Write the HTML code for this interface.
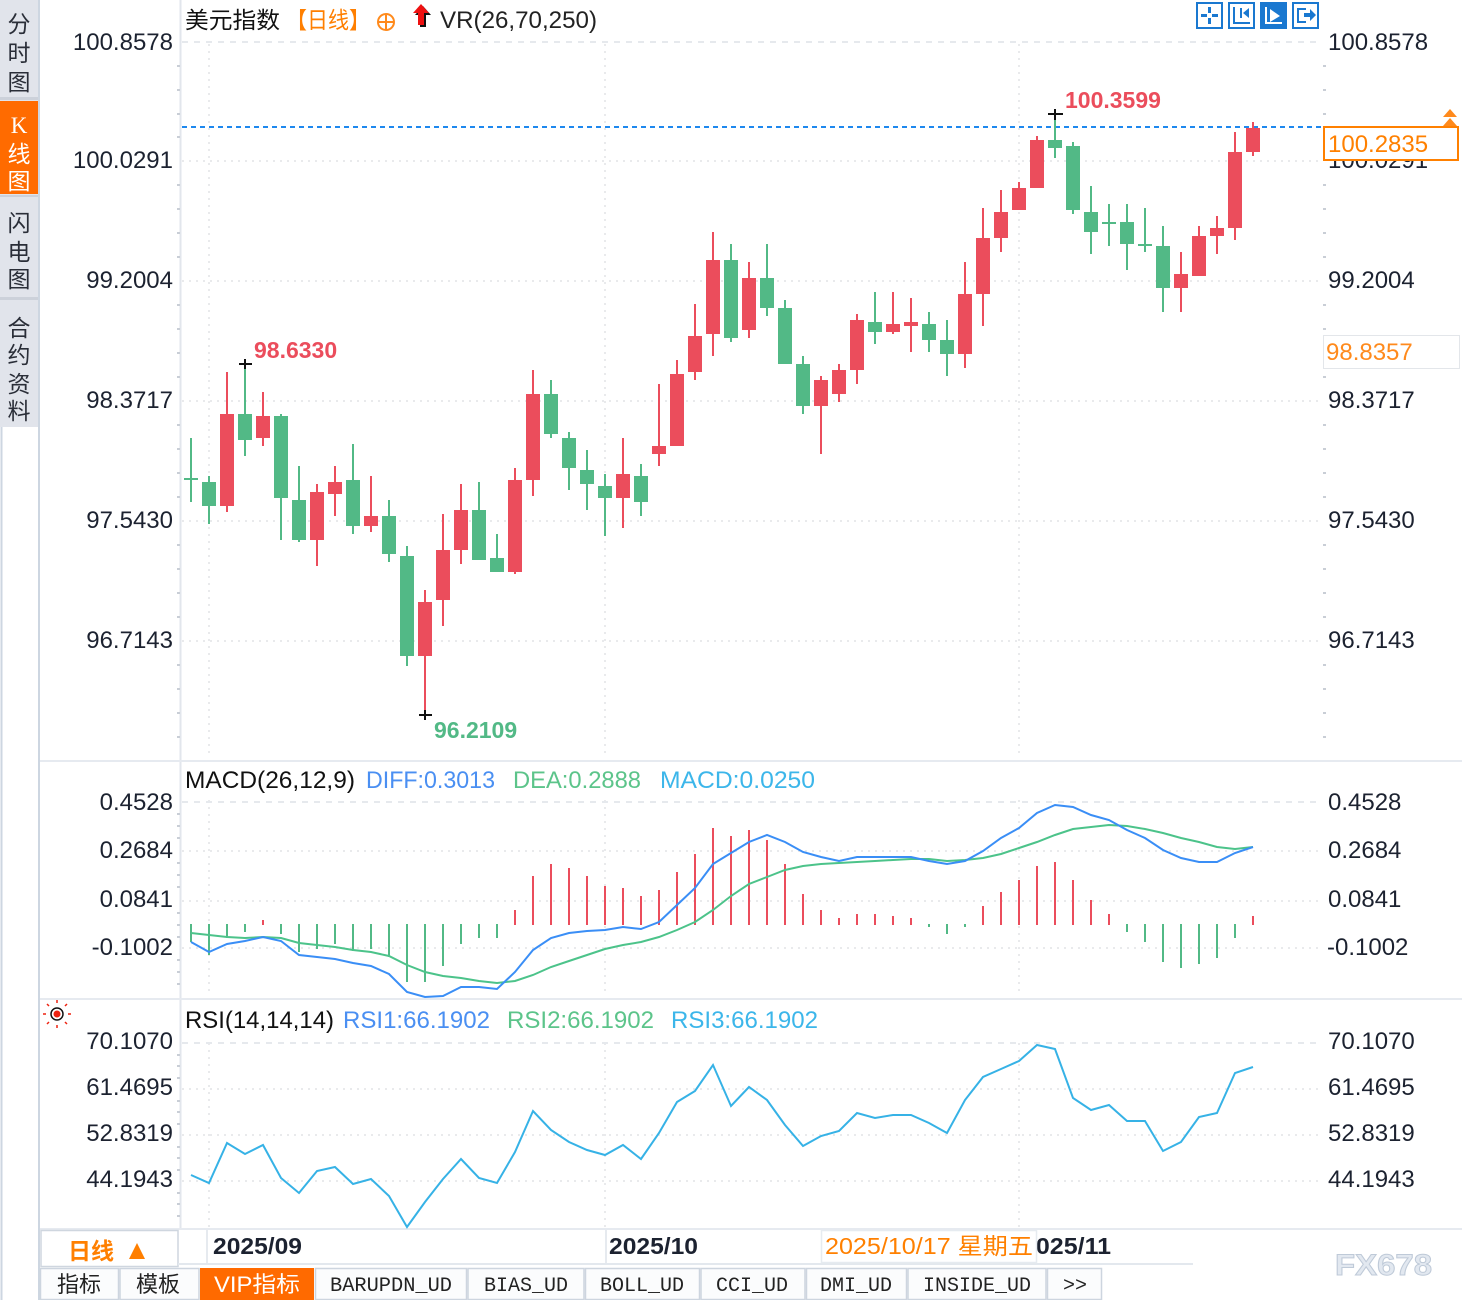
<!DOCTYPE html>
<html><head><meta charset="utf-8"><style>
html,body{margin:0;padding:0;background:#fff;}
body{width:1462px;height:1300px;overflow:hidden;}
svg{display:block;}
text{font-family:"Liberation Sans","Noto Sans CJK SC",sans-serif;}
text.cjk,.cjk text{font-family:"Liberation Sans","Noto Sans CJK SC",sans-serif;}
.ax{font-size:24px;fill:#1c2230;}
.mono text,text.mono{font-family:"Liberation Mono","Noto Sans CJK SC",monospace;font-size:20px;fill:#222;}
text.serif{font-family:"Liberation Serif","Noto Serif CJK SC",serif;}
</style></head><body>
<svg width="1462" height="1300" viewBox="0 0 1462 1300" xmlns="http://www.w3.org/2000/svg">
<rect width="1462" height="1300" fill="#fff"/>

<!-- sidebar -->
<rect x="0" y="0" width="40" height="427" fill="#e1e4eb"/>
<rect x="0" y="101" width="39" height="93" fill="#ff6b00"/>
<rect x="0" y="97" width="40" height="3" fill="#ccd1da"/>
<rect x="0" y="195" width="40" height="2" fill="#ccd1da"/>
<rect x="0" y="297" width="40" height="3" fill="#ccd1da"/>
<line x1="1.5" y1="427" x2="1.5" y2="1300" stroke="#cdd6e1" stroke-width="2"/>
<line x1="39" y1="0" x2="39" y2="1300" stroke="#cdd6e1" stroke-width="2"/>
<g class="cjk" font-size="23" fill="#2a2e38" text-anchor="middle">
<text x="19" y="32">分</text><text x="19" y="61">时</text><text x="19" y="90">图</text>
<text x="19" y="133" fill="#fff" class="serif">K</text><text x="19" y="162" fill="#fff">线</text><text x="19" y="189" fill="#fff">图</text>
<text x="19" y="231">闪</text><text x="19" y="260">电</text><text x="19" y="287">图</text>
<text x="19" y="336">合</text><text x="19" y="363">约</text><text x="19" y="392">资</text><text x="19" y="419">料</text>
</g>

<!-- axes/separators -->
<line x1="180.5" y1="0" x2="180.5" y2="1229" stroke="#e2e6ec" stroke-width="2"/>
<line x1="40" y1="761" x2="1462" y2="761" stroke="#e6eaf0" stroke-width="2"/>
<line x1="40" y1="999" x2="1462" y2="999" stroke="#e6eaf0" stroke-width="2"/>
<line x1="40" y1="1229" x2="1462" y2="1229" stroke="#e6eaf0" stroke-width="2"/>

<!-- grid -->
<g stroke="#e9eaec" stroke-width="2" stroke-dasharray="2 5" fill="none">
<path d="M182 161H1322M182 281H1322M182 401H1322M182 521H1322M182 641H1322"/>
<path d="M182 851H1322M182 901H1322M182 948H1322"/>
<path d="M182 1089H1322M182 1135H1322M182 1181H1322"/>
<path d="M209 44V758M605 44V758M1019 44V758M209 800V996M605 800V996M1019 800V996M209 1043V1228M605 1043V1228M1019 1043V1228"/>
</g>
<g stroke="#e6e9ed" stroke-width="2" stroke-dasharray="6 6">
<path d="M182 42H1322M182 802H1322M182 1043H1322"/>
</g>
<!-- minor ticks -->
<g stroke="#c9ced6" stroke-width="2">
<path d="M177 66h3M177 90h3M177 114h3M177 137h3M177 185h3M177 209h3M177 233h3M177 257h3M177 305h3M177 329h3M177 353h3M177 377h3M177 425h3M177 449h3M177 473h3M177 497h3M177 545h3M177 569h3M177 593h3M177 617h3M177 665h3M177 689h3M177 713h3M177 737h3"/>
<path d="M1323 66h3M1323 90h3M1323 114h3M1323 137h3M1323 185h3M1323 209h3M1323 233h3M1323 257h3M1323 305h3M1323 329h3M1323 353h3M1323 377h3M1323 425h3M1323 449h3M1323 473h3M1323 497h3M1323 545h3M1323 569h3M1323 593h3M1323 617h3M1323 665h3M1323 689h3M1323 713h3M1323 737h3"/>
<path d="M177 814h3M177 826h3M177 838h3M177 863h3M177 875h3M177 887h3M177 913h3M177 925h3M177 937h3M177 960h3M177 972h3M177 984h3"/>
<path d="M177 1055h3M177 1066h3M177 1078h3M177 1101h3M177 1112h3M177 1124h3M177 1147h3M177 1158h3M177 1170h3M177 1193h3M177 1204h3M177 1216h3"/>
</g>

<!-- header -->
<text x="185" y="28" class="cjk" font-size="23" fill="#111" textLength="95" lengthAdjust="spacingAndGlyphs">美元指数</text>
<text x="286" y="28" class="cjk" font-size="23" fill="#ff7f00" textLength="84" lengthAdjust="spacingAndGlyphs">【日线】</text>
<circle cx="386" cy="22" r="8" fill="none" stroke="#ff8a1c" stroke-width="2"/>
<path d="M378 22h16M386 14v16" stroke="#ff8a1c" stroke-width="2"/>
<polygon points="423,6 431,15 426,15 426,27 420,27 420,15 415,15" fill="#111"/>
<polygon points="421,4 429,13 424,13 424,25 418,25 418,13 413,13" fill="#ee1111"/>
<text x="440" y="28" font-size="24" fill="#222" textLength="157" lengthAdjust="spacingAndGlyphs">VR(26,70,250)</text>

<!-- top icons -->
<g fill="none" stroke="#1a78d0" stroke-width="2">
<rect x="1197" y="3" width="25" height="25"/>
<rect x="1229" y="3" width="25" height="25"/>
<rect x="1293" y="3" width="25" height="25"/>
</g>
<rect x="1260" y="2" width="27" height="27" fill="#1a78d0"/>
<g fill="#1a78d0">
<rect x="1208" y="7" width="3" height="6"/><rect x="1208" y="18" width="3" height="6"/><rect x="1201" y="14" width="6" height="3"/><rect x="1212" y="14" width="6" height="3"/>
<rect x="1233" y="7" width="2" height="17"/><rect x="1233" y="22" width="17" height="2"/><rect x="1240" y="8" width="2" height="10"/><path d="M1243 13l6-5v10z"/>
<rect x="1297" y="8" width="2" height="15"/><rect x="1297" y="8" width="9" height="2"/><rect x="1297" y="21" width="9" height="2"/><path d="M1304 13h6v-4l6 6-6 6v-4h-6z"/>
</g>
<g fill="#fff">
<rect x="1265" y="7" width="2" height="17"/><rect x="1265" y="22" width="17" height="2"/><path d="M1270 9l10 7-10 6z"/>
</g>

<!-- price labels left -->
<g class="ax" text-anchor="end">
<text x="173" y="50">100.8578</text><text x="173" y="168">100.0291</text><text x="173" y="288">99.2004</text>
<text x="173" y="408">98.3717</text><text x="173" y="528">97.5430</text><text x="173" y="648">96.7143</text>
<text x="173" y="810">0.4528</text><text x="173" y="858">0.2684</text><text x="173" y="907">0.0841</text><text x="173" y="955">-0.1002</text>
<text x="173" y="1049">70.1070</text><text x="173" y="1095">61.4695</text><text x="173" y="1141">52.8319</text><text x="173" y="1187">44.1943</text>
</g>
<!-- price labels right -->
<g class="ax">
<text x="1328" y="50">100.8578</text><text x="1328" y="168">100.0291</text><text x="1328" y="288">99.2004</text>
<text x="1328" y="408">98.3717</text><text x="1328" y="528">97.5430</text><text x="1328" y="648">96.7143</text>
<text x="1328" y="810">0.4528</text><text x="1328" y="858">0.2684</text><text x="1328" y="907">0.0841</text><text x="1327" y="955">-0.1002</text>
<text x="1328" y="1049">70.1070</text><text x="1328" y="1095">61.4695</text><text x="1328" y="1141">52.8319</text><text x="1328" y="1187">44.1943</text>
</g>

<!-- current price line -->
<line x1="182" y1="127" x2="1322" y2="127" stroke="#1e88ee" stroke-width="2" stroke-dasharray="5 4"/>
<rect x="1324" y="127" width="134" height="33" fill="#fff" stroke="#ff8000" stroke-width="2"/>
<text x="1328" y="152" font-size="24" fill="#ff8000">100.2835</text>
<polygon points="1443,117 1450,109 1457,117" fill="#ff8a1c"/>
<polygon points="1443,126 1450,118 1457,126" fill="#ff8a1c"/>
<rect x="1323.5" y="335.5" width="136" height="33" fill="#fff" stroke="#e3e6ea" stroke-width="1"/>
<text x="1326" y="360" font-size="24" fill="#ff8a1c">98.8357</text>

<!-- candle wicks -->
<path fill="none" stroke="#eb4d5c" stroke-width="2" d="M227 372V512M263 392V446M317 484V566M335 466V516M371 476V532M425 590V715M443 514V626M461 484V564M515 468V574M533 370V496M623 438V528M659 384V466M677 360V446M695 304V380M713 232V356M749 262V338M821 376V454M839 364V402M857 314V384M893 292V334M911 298V352M965 262V368M983 208V326M1001 190V252M1019 182V210M1037 136V188M1181 252V312M1199 226V276M1217 216V254M1235 132V240M1253 122V156"/>
<path fill="none" stroke="#52b986" stroke-width="2" d="M191 438V502M209 476V524M245 364V456M281 414V540M299 466V542M353 444V534M389 500V562M407 546V666M479 482V560M497 534V572M551 380V438M569 432V490M587 450V510M605 474V536M641 464V516M731 244V342M767 244V316M785 300V364M803 356V414M875 292V344M929 312V352M947 320V376M1055 112V158M1073 142V214M1091 186V254M1109 204V246M1127 204V270M1145 208V252M1163 226V312"/>
<!-- red bodies -->
<g fill="#eb4d5c">
<rect x="220" y="414" width="14" height="92"/><rect x="256" y="416" width="14" height="22"/><rect x="310" y="492" width="14" height="48"/><rect x="328" y="482" width="14" height="12"/>
<rect x="364" y="516" width="14" height="10"/><rect x="418" y="602" width="14" height="54"/><rect x="436" y="550" width="14" height="50"/><rect x="454" y="510" width="14" height="40"/>
<rect x="508" y="480" width="14" height="92"/><rect x="526" y="394" width="14" height="86"/><rect x="616" y="474" width="14" height="24"/><rect x="652" y="446" width="14" height="8"/>
<rect x="670" y="374" width="14" height="72"/><rect x="688" y="336" width="14" height="36"/><rect x="706" y="260" width="14" height="74"/><rect x="742" y="278" width="14" height="52"/>
<rect x="814" y="380" width="14" height="26"/><rect x="832" y="370" width="14" height="24"/><rect x="850" y="320" width="14" height="50"/><rect x="886" y="324" width="14" height="8"/>
<rect x="904" y="322" width="14" height="4"/><rect x="958" y="294" width="14" height="60"/><rect x="976" y="238" width="14" height="56"/><rect x="994" y="212" width="14" height="26"/>
<rect x="1012" y="188" width="14" height="22"/><rect x="1030" y="140" width="14" height="48"/><rect x="1174" y="274" width="14" height="14"/><rect x="1192" y="236" width="14" height="40"/>
<rect x="1210" y="228" width="14" height="8"/><rect x="1228" y="152" width="14" height="76"/><rect x="1246" y="128" width="14" height="24"/>
</g>
<!-- green bodies -->
<g fill="#52b986">
<rect x="184" y="478" width="14" height="2"/><rect x="202" y="482" width="14" height="24"/><rect x="238" y="414" width="14" height="26"/><rect x="274" y="416" width="14" height="82"/>
<rect x="292" y="500" width="14" height="40"/><rect x="346" y="480" width="14" height="46"/><rect x="382" y="516" width="14" height="38"/><rect x="400" y="556" width="14" height="100"/>
<rect x="472" y="510" width="14" height="50"/><rect x="490" y="558" width="14" height="14"/><rect x="544" y="394" width="14" height="40"/><rect x="562" y="438" width="14" height="30"/>
<rect x="580" y="470" width="14" height="14"/><rect x="598" y="486" width="14" height="12"/><rect x="634" y="476" width="14" height="26"/><rect x="724" y="260" width="14" height="78"/>
<rect x="760" y="278" width="14" height="30"/><rect x="778" y="308" width="14" height="56"/><rect x="796" y="364" width="14" height="42"/><rect x="868" y="322" width="14" height="10"/>
<rect x="922" y="324" width="14" height="16"/><rect x="940" y="340" width="14" height="14"/><rect x="1048" y="140" width="14" height="8"/><rect x="1066" y="146" width="14" height="64"/>
<rect x="1084" y="212" width="14" height="20"/><rect x="1102" y="222" width="14" height="2"/><rect x="1120" y="222" width="14" height="22"/><rect x="1138" y="244" width="14" height="2"/>
<rect x="1156" y="246" width="14" height="42"/>
</g>

<!-- high/low markers -->
<g stroke="#111" stroke-width="2">
<path d="M239 364H252M245 359V369"/>
<path d="M419 715H432M425 710V720"/>
<path d="M1048 114H1063M1055 109V120"/>
</g>
<text x="254" y="358" font-size="23" font-weight="bold" fill="#eb4d5c">98.6330</text>
<text x="434" y="738" font-size="23" font-weight="bold" fill="#52b986">96.2109</text>
<text x="1065" y="108" font-size="23" font-weight="bold" fill="#eb4d5c">100.3599</text>

<!-- MACD -->
<text x="185" y="788" font-size="24" fill="#111" textLength="170" lengthAdjust="spacingAndGlyphs">MACD(26,12,9)</text>
<text x="366" y="788" font-size="24" fill="#4a8ff2" textLength="129" lengthAdjust="spacingAndGlyphs">DIFF:0.3013</text>
<text x="513" y="788" font-size="24" fill="#5cc48a" textLength="128" lengthAdjust="spacingAndGlyphs">DEA:0.2888</text>
<text x="660" y="788" font-size="24" fill="#3cb6ea" textLength="155" lengthAdjust="spacingAndGlyphs">MACD:0.0250</text>

<path fill="none" stroke="#eb4d5c" stroke-width="2" d="M263 920V925M515 910V925M533 876V925M551 864V925M569 868V925M587 876V925M605 886V925M623 888V925M641 896V925M659 890V925M677 872V925M695 854V925M713 828V925M731 836V925M749 830V925M767 840V925M785 864V925M803 894V925M821 910V925M839 918V925M857 914V925M875 914V925M893 916V925M911 918V925M983 906V925M1001 892V925M1019 880V925M1037 866V925M1055 862V925M1073 880V925M1091 900V925M1109 914V925M1253 916V925"/>
<path fill="none" stroke="#52b986" stroke-width="2" d="M191 924V942M209 924V955M227 924V938M245 924V932M281 924V934M299 924V952M317 924V949M335 924V944M353 924V951M371 924V949M389 924V957M407 924V982M425 924V982M443 924V966M461 924V944M479 924V938M497 924V938M929 924V927M947 924V934M965 924V927M1127 924V932M1145 924V942M1163 924V962M1181 924V968M1199 924V964M1217 924V958M1235 924V938"/>
<polyline fill="none" stroke="#4cc38a" stroke-width="2" points="191,933 209,935 227,937 245,938 263,937 281,938 299,943 317,945 335,947 353,950 371,952 389,956 407,965 425,972 443,976 461,978 479,981 497,983 515,981 533,975 551,967 569,961 587,955 605,949 623,945 641,942 659,937 677,930 695,922 713,910 731,896 749,884 767,877 785,870 803,866 821,864 839,863 857,862 875,861 893,860 911,859 929,859 947,861 965,860 983,858 1001,854 1019,848 1037,842 1055,835 1073,829 1091,827 1109,825 1127,826 1145,829 1163,833 1181,838 1199,842 1217,847 1235,849 1253,847"/>
<polyline fill="none" stroke="#3a8ef6" stroke-width="2" points="191,942 209,952 227,944 245,941 263,937 281,941 299,955 317,957 335,959 353,963 371,966 389,974 407,992 425,997 443,996 461,987 479,987 497,989 515,972 533,950 551,938 569,933 587,931 605,930 623,927 641,929 659,922 677,905 695,888 713,864 731,853 749,842 767,835 785,842 803,852 821,857 839,861 857,857 875,857 893,857 911,857 929,861 947,864 965,861 983,851 1001,838 1019,828 1037,813 1055,805 1073,807 1091,815 1109,820 1127,830 1145,838 1163,850 1181,858 1199,862 1217,862 1235,853 1253,847"/>

<!-- RSI -->
<g>
<circle cx="57" cy="1014" r="6" fill="none" stroke="#111" stroke-width="1.5"/>
<circle cx="57" cy="1014" r="3.5" fill="#e21"/>
<g stroke="#e21" stroke-width="1.5">
<path d="M57 1000v3M57 1025v3M43 1014h3M68 1014h3M47 1004l2 2M65 1022l2 2M67 1004l-2 2M47 1024l2-2"/>
</g>
</g>
<text x="185" y="1028" font-size="24" fill="#111" textLength="149" lengthAdjust="spacingAndGlyphs">RSI(14,14,14)</text>
<text x="343" y="1028" font-size="24" fill="#4a8ff2" textLength="147" lengthAdjust="spacingAndGlyphs">RSI1:66.1902</text>
<text x="507" y="1028" font-size="24" fill="#5cc48a" textLength="147" lengthAdjust="spacingAndGlyphs">RSI2:66.1902</text>
<text x="671" y="1028" font-size="24" fill="#3cb6ea" textLength="147" lengthAdjust="spacingAndGlyphs">RSI3:66.1902</text>
<polyline fill="none" stroke="#36b2e6" stroke-width="2" points="191,1175 209,1183 227,1143 245,1154 263,1145 281,1178 299,1193 317,1171 335,1167 353,1184 371,1179 389,1196 407,1227 425,1202 443,1179 461,1159 479,1178 497,1183 515,1152 533,1111 551,1130 569,1142 587,1150 605,1155 623,1145 641,1159 659,1133 677,1102 695,1091 713,1065 731,1106 749,1087 767,1100 785,1125 803,1146 821,1136 839,1131 857,1113 875,1118 893,1115 911,1115 929,1123 947,1133 965,1100 983,1077 1001,1069 1019,1061 1037,1045 1055,1049 1073,1098 1091,1110 1109,1105 1127,1121 1145,1121 1163,1151 1181,1142 1199,1117 1217,1113 1235,1073 1253,1067"/>

<!-- date bar -->
<rect x="41" y="1230.5" width="137" height="36" fill="#fff" stroke="#cfd6df" stroke-width="1.5"/>
<text x="68" y="1259" class="cjk" font-size="23" font-weight="bold" fill="#ff7f00">日线</text>
<polygon points="129,1259 137,1243 145,1259" fill="#ff7f00"/>
<path d="M207 1230V1265M606 1230V1265" stroke="#dde3ea" stroke-width="1.5"/>
<line x1="178" y1="1264" x2="1193" y2="1264" stroke="#e3e8ee" stroke-width="2"/>
<g font-size="23" font-weight="bold" fill="#1c2230">
<text x="213" y="1254" textLength="89" lengthAdjust="spacingAndGlyphs">2025/09</text>
<text x="609" y="1254" textLength="89" lengthAdjust="spacingAndGlyphs">2025/10</text>
<text x="1022" y="1254" textLength="89" lengthAdjust="spacingAndGlyphs">2025/11</text>
</g>
<rect x="821.5" y="1230.5" width="215" height="32" fill="#fff" stroke="#e6ebf0" stroke-width="1.5"/>
<text x="825" y="1254" class="cjk" font-size="23" fill="#ff8000" textLength="208" lengthAdjust="spacingAndGlyphs">2025/10/17 星期五</text>
<text x="1335" y="1275" font-size="30" font-weight="bold" fill="#e2e8f0" stroke="#bfcad8" stroke-width="1" textLength="97" lengthAdjust="spacingAndGlyphs">FX678</text>

<!-- tabs -->
<g fill="#fbfcfd" stroke="#cdd5df" stroke-width="1.5">
<rect x="40.5" y="1268.5" width="78" height="31"/>
<rect x="120" y="1268.5" width="79" height="31"/>
<rect x="315.5" y="1268.5" width="151" height="31"/>
<rect x="468" y="1268.5" width="116" height="31"/>
<rect x="585.5" y="1268.5" width="114" height="31"/>
<rect x="701" y="1268.5" width="104" height="31"/>
<rect x="806.5" y="1268.5" width="100" height="31"/>
<rect x="908" y="1268.5" width="138" height="31"/>
<rect x="1047.5" y="1268.5" width="54" height="31"/>
</g>
<rect x="200" y="1268" width="114" height="32" fill="#ff6a00"/>
<g class="cjk" font-size="22" fill="#222">
<text x="57" y="1292">指标</text>
<text x="136" y="1292">模板</text>
</g>
<text x="214" y="1292" class="cjk" font-size="22" fill="#fff" textLength="86" lengthAdjust="spacingAndGlyphs">VIP指标</text>
<g class="mono">
<text class="mono" x="330" y="1291" textLength="122" lengthAdjust="spacingAndGlyphs">BARUPDN_UD</text>
<text class="mono" x="484" y="1291" textLength="84" lengthAdjust="spacingAndGlyphs">BIAS_UD</text>
<text class="mono" x="600" y="1291" textLength="84" lengthAdjust="spacingAndGlyphs">BOLL_UD</text>
<text class="mono" x="716" y="1291" textLength="72" lengthAdjust="spacingAndGlyphs">CCI_UD</text>
<text class="mono" x="820" y="1291" textLength="72" lengthAdjust="spacingAndGlyphs">DMI_UD</text>
<text class="mono" x="923" y="1291" textLength="108" lengthAdjust="spacingAndGlyphs">INSIDE_UD</text>
<text class="mono" x="1063" y="1291">&gt;&gt;</text>
</g>
</svg>
</body></html>
